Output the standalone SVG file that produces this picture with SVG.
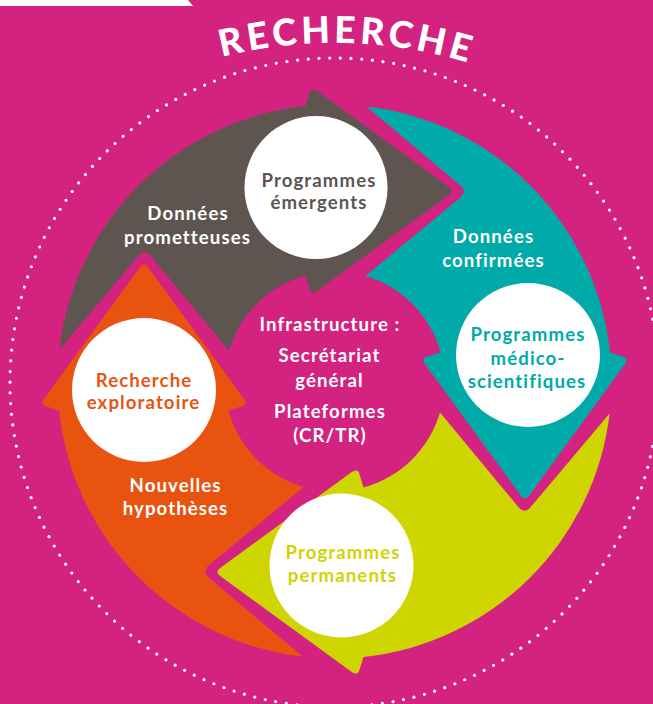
<svg xmlns="http://www.w3.org/2000/svg" width="653" height="704" viewBox="0 0 653 704">
  <defs>
    <style>
      .bg { fill: #d42281; }
      .lbl { font-family: Lato, "Open Sans", "Liberation Sans", sans-serif; font-weight: 700; font-size: 18.6px; letter-spacing: 1.1px; text-anchor: middle; }
      .w { fill: #ffffff; }
      .disc { fill: #ffffff; }
      .c-orange { fill: #e8540f; }
      .c-gray { fill: #5e5551; }
      .c-teal { fill: #00aaa8; }
      .c-yellow { fill: #cfd500; }
      .title { font-family: Lato, "Open Sans", "Liberation Sans", sans-serif; font-weight: 900; font-size: 37px; letter-spacing: 4px; fill: #ffffff; }
      .ring { fill: none; stroke: #ffffff; stroke-width: 3.2; stroke-linecap: round; stroke-dasharray: 0 10.73; }
    </style>
    <!-- One quarter of the cycle (left arc, pointing up), drawn around the cycle centre -->
    <path id="quarter-arrow" d="M -275.5 29 L -288.8 24.8 Q -294.5 23 -290.4 17.3 L -194.6 -114.3 Q -190.5 -120 -186.4 -114.3 L -90.6 17.3 Q -86.5 23 -92.2 24.8 L -106.1 29 A 110 110 0 0 0 -31 105.5 L -125.3 183.6 Q -133 190 -125.35 196.4 L -32 275.1 A 277 277 0 0 1 -275.5 29 Z"/>
    <path id="title-arc" d="M -127.5 505 A 462 462 0 0 1 796.5 505"/>
  </defs>

  <!-- background -->
  <rect class="bg" x="0" y="0" width="653" height="704"/>
  <polygon points="0,0 188,0 193,6 0,6" fill="#ffffff"/>

  <!-- title along an arc -->
  <text class="title"><textPath href="#title-arc" startOffset="738" text-anchor="middle">RECHERCHE</textPath></text>

  <!-- dotted ring -->
  <circle class="ring" cx="334.5" cy="382.5" r="324.5"/>

  <!-- the four cycle arrows -->
  <g id="connectors" transform="translate(334.5 381.5)">
    <use href="#quarter-arrow" class="c-orange"/>
    <use href="#quarter-arrow" class="c-gray" transform="rotate(90)"/>
    <use href="#quarter-arrow" class="c-teal" transform="rotate(180)"/>
    <use href="#quarter-arrow" class="c-yellow" transform="rotate(270)"/>
  </g>

  <!-- labels carried by the arrows -->
  <g id="arrow-labels" class="lbl w">
    <text x="188" y="220">Données</text>
    <text x="187.5" y="244">prometteuses</text>
    <text x="493.5" y="243">Données</text>
    <text x="493.5" y="267">confirmées</text>
    <text x="175.5" y="492">Nouvelles</text>
    <text x="175.5" y="515">hypothèses</text>
  </g>

  <g id="node-emergents">
    <circle class="disc" cx="316" cy="187.5" r="71.5"/>
    <text class="lbl c-gray" x="319" y="187">Programmes</text>
    <text class="lbl c-gray" x="319" y="209">émergents</text>
  </g>

  <g id="node-medico">
    <circle class="disc" cx="528" cy="355" r="72"/>
    <text class="lbl c-teal" x="528" y="341">Programmes</text>
    <text class="lbl c-teal" x="528" y="365">médico-</text>
    <text class="lbl c-teal" x="527" y="388">scientifiques</text>
  </g>

  <g id="node-permanents">
    <circle class="disc" cx="341.5" cy="565.5" r="72"/>
    <text class="lbl c-yellow" x="343" y="559">Programmes</text>
    <text class="lbl c-yellow" x="342.5" y="582">permanents</text>
  </g>

  <g id="node-exploratoire">
    <circle class="disc" cx="144" cy="390" r="72"/>
    <text class="lbl c-orange" x="144" y="387">Recherche</text>
    <text class="lbl c-orange" x="143.5" y="409">exploratoire</text>
  </g>

  <g id="node-infrastructure" class="lbl w">
    <text x="330" y="331">Infrastructure :</text>
    <text x="329.5" y="362">Secrétariat</text>
    <text x="329.5" y="387">général</text>
    <text x="330" y="418">Plateformes</text>
    <text x="330" y="442">(CR/TR)</text>
  </g>
</svg>
